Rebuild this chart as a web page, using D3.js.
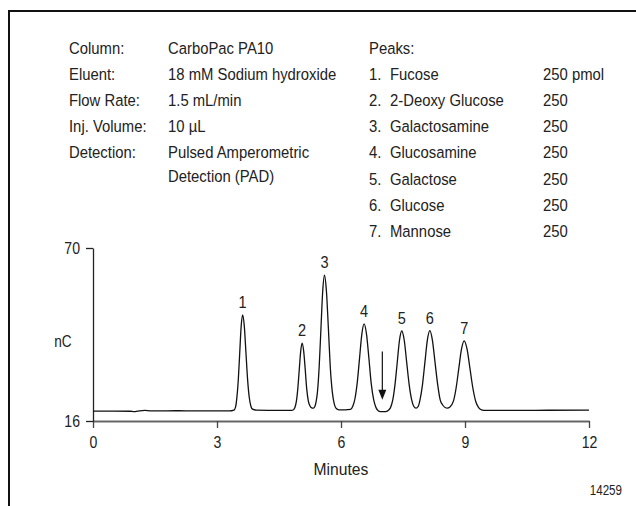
<!DOCTYPE html>
<html>
<head>
<meta charset="utf-8">
<script src="https://cdn.jsdelivr.net/npm/d3@7"></script>
<style>
  html, body { margin: 0; padding: 0; background: #fff; }
  svg { display: block; }
  text { font-family: "Liberation Sans", Arial, sans-serif; fill: #222; }
</style>
</head>
<body>
<div id="chart"></div>
<script>
// ---------- data ----------
const conditionLabels = ["Column:", "Eluent:", "Flow Rate:", "Inj. Volume:", "Detection:"];
const conditionValues = [["CarboPac PA10"], ["18 mM Sodium hydroxide"], ["1.5 mL/min"], ["10 \u00b5L"], ["Pulsed Amperometric", "Detection (PAD)"]];
const peaksTitle = "Peaks:";
const peakNumbers = ["1.", "2.", "3.", "4.", "5.", "6.", "7."];
const peakNames = ["Fucose", "2-Deoxy Glucose", "Galactosamine", "Glucosamine", "Galactose", "Glucose", "Mannose"];
const peakAmounts = ["250 pmol", "250", "250", "250", "250", "250", "250"];
const peakLabels = ["1", "2", "3", "4", "5", "6", "7"];
const peakApexTime = [3.62, 5.06, 5.60, 6.56, 7.47, 8.15, 8.98];
const peakApexValue = [49.1, 40.3, 61.5, 46.3, 44.1, 44.2, 41.0];
const arrowMark = { t: 7.0, from: 37.7, to: 22.6 };
const xTicks = [0, 3, 6, 9, 12];
const yTicks = [16, 70];
const xTitle = "Minutes";
const yTitle = "nC";
const figureId = "14259";

const traceTime = [0, 0.5, 0.9, 1.0, 1.08, 1.25, 1.4, 2.0, 2.5, 3.0, 3.3,
  3.41, 3.45, 3.48, 3.515, 3.55, 3.585, 3.62, 3.66, 3.70, 3.74, 3.78, 3.82, 3.86, 3.95,
  4.5, 4.8, 4.85, 4.885, 4.92, 4.955, 4.99, 5.025, 5.06, 5.097, 5.135, 5.17, 5.21, 5.25, 5.29, 5.33,
  5.37, 5.40, 5.43, 5.4725, 5.515, 5.5575, 5.60, 5.6475, 5.695, 5.74, 5.79, 5.84, 5.885, 5.95,
  6.1, 6.23, 6.285, 6.34, 6.395, 6.45, 6.505, 6.56, 6.617, 6.675, 6.73, 6.79, 6.85, 6.90, 6.95,
  7.05, 7.12, 7.195, 7.25, 7.305, 7.36, 7.415, 7.47, 7.53, 7.59, 7.65, 7.71, 7.76, 7.815,
  7.87, 7.91, 7.97, 8.03, 8.09, 8.15, 8.21, 8.275, 8.34, 8.40, 8.46, 8.52, 8.57,
  8.63, 8.72, 8.785, 8.85, 8.915, 8.98, 9.05, 9.12, 9.19, 9.26, 9.33, 9.40, 9.5, 10, 11, 12];
const traceSignal = [19.1, 19.1, 19.05, 18.9, 19.05, 19.3, 19.15, 19.2, 19.15, 19.15, 19.15,
  19.4, 20.4, 23.2, 28.8, 37.3, 45.6, 49.1, 45.7, 37.4, 29.0, 23.4, 20.6, 19.7, 19.4,
  19.3, 19.3, 19.5, 20.2, 22.1, 26.1, 32.0, 37.8, 40.3, 37.8, 32.0, 26.1, 22.2, 20.7, 20.1, 20.0,
  20.6, 22.2, 25.0, 33.0, 44.9, 56.5, 61.5, 56.5, 44.9, 33.0, 25.0, 21.2, 19.9, 19.5,
  19.45, 19.6, 20.6, 23.1, 28.2, 35.8, 43.2, 46.3, 43.1, 35.6, 27.8, 22.7, 20.1, 19.2, 18.95,
  18.9, 19.1, 20.1, 22.4, 27.2, 34.2, 41.2, 44.1, 41.2, 34.2, 27.3, 22.6, 20.6, 20.0,
  20.6, 22.5, 27.2, 34.3, 41.3, 44.2, 41.3, 34.3, 27.3, 22.6, 21.0, 20.2, 20.0,
  20.3, 22.2, 26.3, 32.4, 38.4, 41.0, 38.4, 32.4, 26.3, 22.1, 20.2, 19.5, 19.3, 19.3, 19.35, 19.4];

// ---------- layout ----------
const W = 636, H = 506;
const margin = { left: 93, right: 47, top: 248, bottom: 85 };
const fs = 16.5;     // body text size
const sx = 0.9;      // horizontal condensing to mimic a condensed face

const svg = d3.select("#chart").append("svg").attr("width", W).attr("height", H);
svg.append("rect").attr("width", W).attr("height", H).attr("fill", "#fff");

// helper: condensed text
function ctext(g, px, py, str, size, cond, anchor) {
  return g.append("text")
    .attr("transform", `translate(${px},${py}) scale(${cond},1)`)
    .attr("text-anchor", anchor || "start")
    .style("font-size", size + "px")
    .text(str);
}

// frame (top and left edges; continues off page)
svg.append("line").attr("x1", 9).attr("x2", W).attr("y1", 11).attr("y2", 11).attr("stroke", "#111").attr("stroke-width", 2);
svg.append("line").attr("x1", 9).attr("x2", 9).attr("y1", 10).attr("y2", H).attr("stroke", "#111").attr("stroke-width", 2);

// conditions block
const rowGap = 26.1, row0 = 54;
const cond = svg.append("g");
conditionLabels.forEach((lab, i) => {
  ctext(cond, 69, row0 + i * rowGap, lab, fs, sx);
  conditionValues[i].forEach((v, j) => {
    ctext(cond, 168, row0 + i * rowGap + j * 23.5, v, fs, sx);
  });
});
ctext(cond, 369, row0, peaksTitle, fs, sx);
peakNames.forEach((n, i) => {
  const yy = row0 + (i + 1) * rowGap;
  ctext(cond, 369, yy, peakNumbers[i], fs, sx);
  ctext(cond, 390, yy, n, fs, sx);
  ctext(cond, 543, yy, peakAmounts[i], fs, sx);
});

// scales
const x = d3.scaleLinear().domain([0, 12]).range([margin.left, W - margin.right]);
const y = d3.scaleLinear().domain([16, 70]).range([H - margin.bottom, margin.top]);

// x axis
const gx = svg.append("g").attr("transform", `translate(0,${y(16)})`)
  .call(d3.axisBottom(x).tickValues(xTicks).tickSize(7).tickSizeOuter(0).tickPadding(9).tickFormat(d3.format("d")));
gx.select(".domain").attr("stroke", "#666").attr("stroke-width", 2);
gx.selectAll(".tick line").attr("stroke", "#444").attr("stroke-width", 1.3);
gx.selectAll(".tick text").each(function () {
  const t = d3.select(this);
  const ty = +t.attr("y");
  t.attr("y", null).attr("transform", `translate(0,${ty}) scale(0.88,1)`)
    .style("font-size", "16px").style("font-family", '"Liberation Sans", Arial, sans-serif').attr("fill", "#222");
});

// y axis
const gy = svg.append("g").attr("transform", `translate(${x(0)},0)`)
  .call(d3.axisLeft(y).tickValues(yTicks).tickSize(7).tickSizeOuter(0).tickPadding(6).tickFormat(d3.format("d")));
gy.select(".domain").attr("stroke", "#222").attr("stroke-width", 1.3);
gy.selectAll(".tick line").attr("stroke", "#222").attr("stroke-width", 1.3);
gy.selectAll(".tick text").each(function () {
  const t = d3.select(this);
  const tx = +t.attr("x");
  t.attr("x", null).attr("transform", `translate(${tx},0) scale(0.88,1)`)
    .style("font-size", "16px").style("font-family", '"Liberation Sans", Arial, sans-serif').attr("fill", "#222");
});

// axis titles
ctext(svg, 63, 347, yTitle, 16, 0.85, "middle");
ctext(svg, (x(0) + x(12)) / 2, 475, xTitle, 16.5, 0.95, "middle");
ctext(svg, 622, 495, figureId, 14.5, 0.8, "end");

// trace
const pts = traceTime.map((t, i) => [t, traceSignal[i]]);
const line = d3.line().x(d => x(d[0])).y(d => y(d[1])).curve(d3.curveMonotoneX);
svg.append("path").datum(pts).attr("d", line).attr("fill", "none").attr("stroke", "#111").attr("stroke-width", 1.3);

// peak labels
peakLabels.forEach((p, i) => {
  ctext(svg, x(peakApexTime[i]), y(peakApexValue[i]) - 7, p, 16.5, 0.88, "middle");
});

// arrow
const ax = x(arrowMark.t), ay1 = y(arrowMark.from), ay2 = y(arrowMark.to);
svg.append("line").attr("x1", ax).attr("x2", ax).attr("y1", ay1).attr("y2", ay2 - 9).attr("stroke", "#111").attr("stroke-width", 1.2);
svg.append("path").attr("d", `M${ax - 4},${ay2 - 10}L${ax + 4},${ay2 - 10}L${ax},${ay2}Z`).attr("fill", "#111");
</script>
</body>
</html>
